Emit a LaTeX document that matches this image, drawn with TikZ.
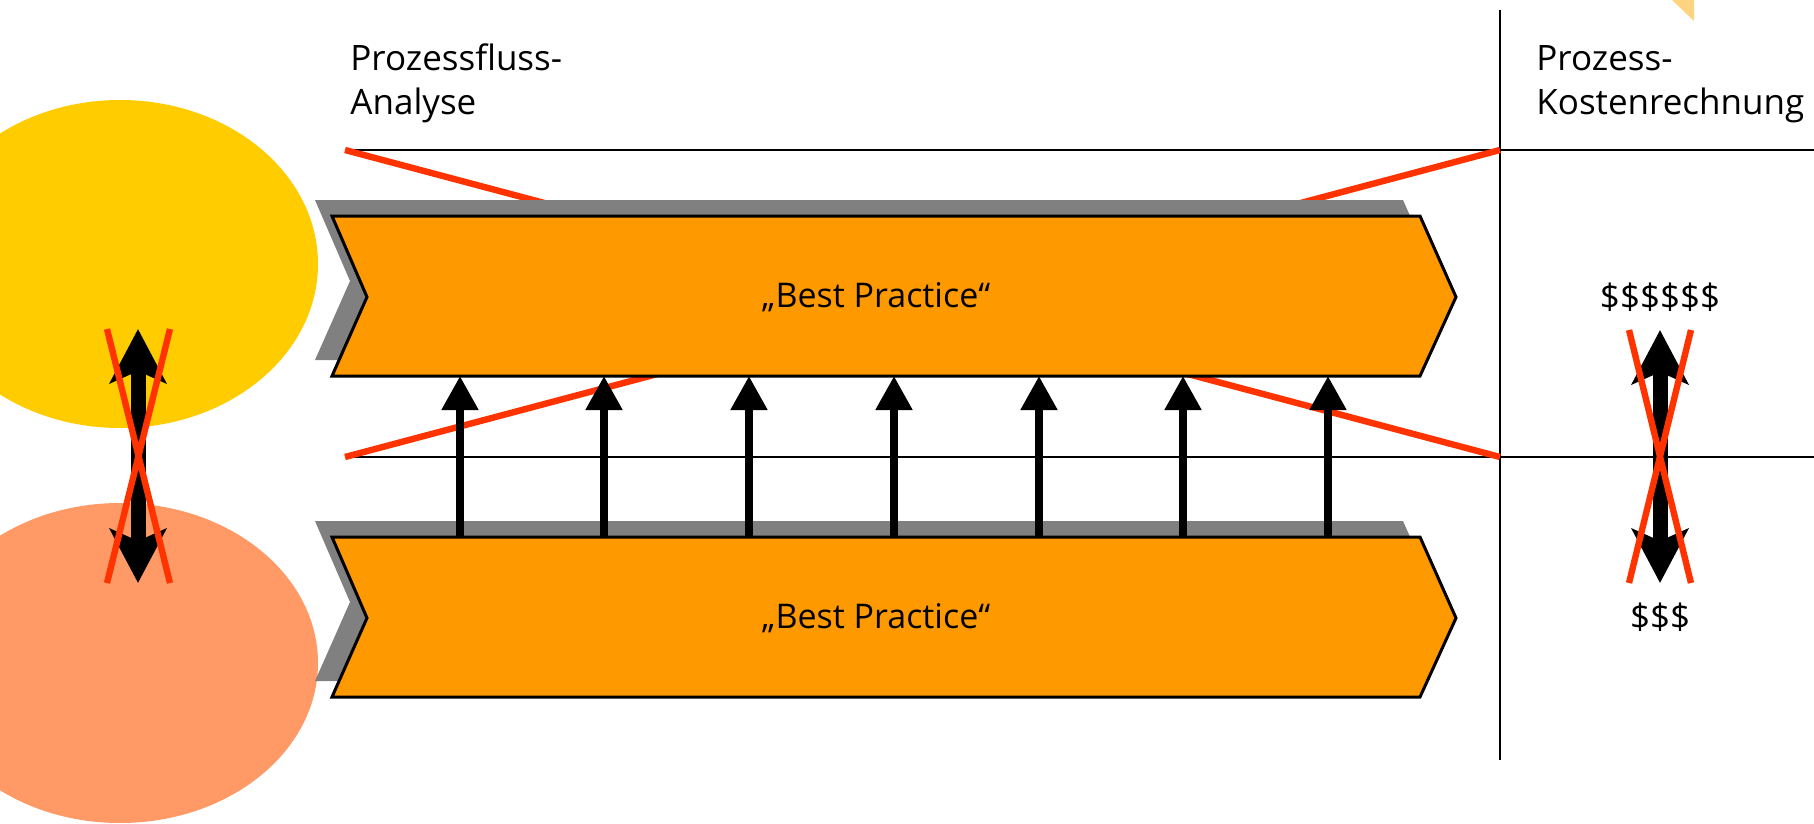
\documentclass[tikz,border=0pt]{standalone}
\usepackage{fontspec}
\setmainfont{Open Sans}
\usetikzlibrary{arrows.meta}
\definecolor{sunyellow}{HTML}{FFCC00}
\definecolor{paleyellow}{HTML}{FFD37F}
\definecolor{salmon}{HTML}{FF9966}
\definecolor{bporange}{HTML}{FF9900}
\definecolor{crossred}{HTML}{FF3300}
\definecolor{shadowgray}{HTML}{808080}
\tikzstyle{every path}=[line cap=butt,line join=miter]
\tikzstyle{thinline}=[line width=1.4pt]
\tikzstyle{redline}=[crossred,line width=3.2pt]
\tikzstyle{chevron}=[draw=black,fill=bporange,line width=1.5pt]
\tikzstyle{bptext}=[font=\fontsize{17}{20}\selectfont,inner sep=0pt]
\tikzstyle{label}=[font=\fontsize{17.5}{22}\selectfont,align=left,anchor=north west,inner sep=0pt]
\tikzstyle{dollar}=[font=\fontsize{17.5}{22}\selectfont,inner sep=0pt]
\tikzstyle{uparrow}=[line width=4pt,-{Triangle[length=17pt,width=17.5pt]}]
\tikzstyle{dblarrow}=[line width=7.5pt,{Stealth[length=27pt,width=28pt,inset=6pt]}-{Stealth[length=27pt,width=28pt,inset=6pt]}]

\begin{document}
\begin{tikzpicture}[x=0.5pt,y=-0.5pt]
  \useasboundingbox (0,0) rectangle (1814,824);
  % Kreise
  \fill[sunyellow] (120,264) ellipse (198 and 164);
  \fill[salmon] (120,663) ellipse (198 and 160);
  \fill[paleyellow] (1672,0) -- (1694,0) -- (1694,21) -- cycle;
  % Raster
  \coordinate (tl) at (345,150);
  \coordinate (bl) at (345,457);
  \coordinate (tr) at (1500,150);
  \coordinate (br) at (1500,457);
  \coordinate (vt) at (1500,10);
  \coordinate (vb) at (1500,760);
  \draw[thinline] (tl) -- (1814,150);
  \draw[thinline] (bl) -- (1814,457);
  \draw[thinline] (vt) -- (vb);
  \draw[redline] (tl) -- (br);
  \draw[redline] (bl) -- (tr);
  \node[label] (pfa) at (350,43) {Prozessfluss-\\Analyse};
  \node[label] (pkr) at (1536,45) {Prozess-\\Kostenrechnung};
  % Best Practice
  \foreach \y/\n in {216/top,537/bot}{
    \fill[shadowgray,shift={(-17,-16)}] (332,\y) -- (1420,\y) -- (1456,\y+81)
      -- (1420,\y+160) -- (332,\y+160) -- (367,\y+81) -- cycle;
    \draw[chevron] (332,\y) -- (1420,\y) -- (1456,\y+81)
      -- (1420,\y+160) -- (332,\y+160) -- (367,\y+81) -- cycle;
    \node[bptext] (bp-\n) at (876,\y+81) {„Best Practice“};
  }
  \foreach \x [count=\i] in {460,604,749,894,1039,1183,1328}{
    \coordinate (a\i) at (\x,537);
    \coordinate (b\i) at (\x,376);
    \draw[uparrow] (a\i) -- (b\i);
  }
  % links
  \coordinate (lu) at (138,329);
  \coordinate (ld) at (138,583);
  \draw[dblarrow] (lu) -- (ld);
  \draw[redline] (107,329) -- (170,583) (170,329) -- (107,583);
  % rechts
  \node[dollar] (d6) at (1660,297) {\$\$\$\$\$\$};
  \node[dollar] (d3) at (1660,617) {\$\$\$};
  \coordinate (ru) at (1660,330);
  \coordinate (rd) at (1660,583);
  \draw[dblarrow] (ru) -- (rd);
  \draw[redline] (1629,330) -- (1691,583) (1691,330) -- (1629,583);
\end{tikzpicture}
\end{document}
